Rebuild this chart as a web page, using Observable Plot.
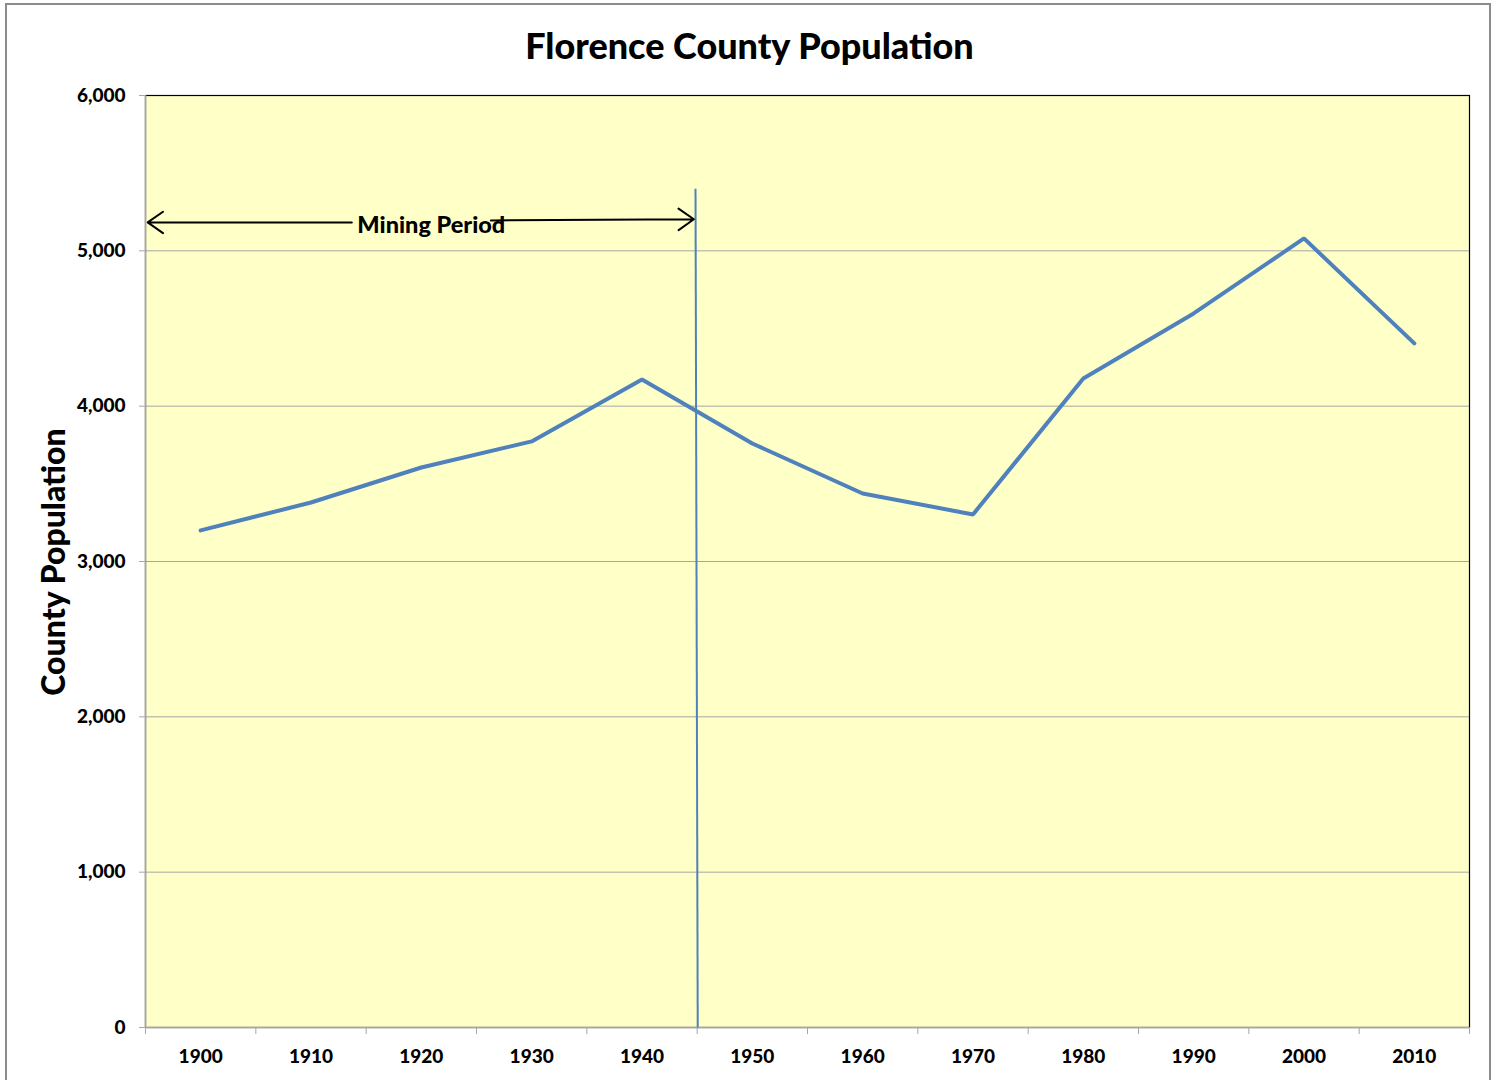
<!DOCTYPE html>
<html>
<head>
<meta charset="utf-8">
<script src="https://cdn.jsdelivr.net/npm/d3@7"></script>
<script src="https://cdn.jsdelivr.net/npm/@observablehq/plot@0.6"></script>
<style>
  html, body { margin: 0; padding: 0; background: #fff; width: 1499px; height: 1080px; overflow: hidden; }
  #border { position: absolute; left: 5px; top: 3px; width: 1486px; height: 1100px; border: 2px solid #8c8c8c; box-sizing: border-box; }
  #title { position: absolute; left: 0; top: 21px; width: 1499px; text-align: center; font-family: Lato, "Open Sans", sans-serif; font-weight: 900; font-size: 36px; line-height: 48px; color: #000; }
  #ylabel { position: absolute; left: 52px; top: 562px; transform: translate(-50%, -50%) rotate(-90deg); font-family: Lato, "Open Sans", sans-serif; font-weight: 900; font-size: 32px; white-space: nowrap; color: #000; }
  #chart { position: absolute; left: 0; top: 75px; }
</style>
</head>
<body>
<div id="border"></div>
<div id="title">Florence County Population</div>
<div id="ylabel">County Population</div>
<div id="chart"></div>
<script>
const years = [1900, 1910, 1920, 1930, 1940, 1950, 1960, 1970, 1980, 1990, 2000, 2010];
const population = [3200, 3380, 3605, 3773, 4172, 3760, 3438, 3303, 4178, 4597, 5080, 4404];
const yTicks = [0, 1000, 2000, 3000, 4000, 5000, 6000];
const xBoundaries = [1895, 1905, 1915, 1925, 1935, 1945, 1955, 1965, 1975, 1985, 1995, 2005, 2015];
const markerYears = [1944.85, 1945.05];
const markerPops = [5400, 0];
const arrowLeft = {x1: 1913.7, y1: 5183, x2: 1895.2, y2: 5183};
const arrowRight = {x1: 1926.3, y1: 5196, x2: 1944.7, y2: 5203};
const annotation = [{x: 1914.2, y: 5165, text: "Mining Period"}];

const data = years.map((y, i) => ({year: y, pop: population[i]}));
const font = "Lato, 'Open Sans', sans-serif";

const chart = Plot.plot({
  width: 1499,
  height: 1005,
  marginLeft: 145,
  marginRight: 30,
  marginTop: 20,
  marginBottom: 53,
  style: {fontFamily: font, background: "transparent"},
  x: {domain: [1895, 2015], axis: null},
  y: {domain: [0, 6000], axis: null},
  marks: [
    Plot.frame({fill: "#FFFFC8", stroke: null}),
    Plot.ruleY(yTicks.slice(1, -1), {stroke: "#a6a6a6", strokeWidth: 1}),
    Plot.frame({stroke: "#000", strokeWidth: 1.2}),
    Plot.ruleX([1895], {stroke: "#a6a6a6", strokeWidth: 1.5}),
    Plot.ruleY([0], {stroke: "#a6a6a6", strokeWidth: 1.5}),
    Plot.axisY({ticks: yTicks, tickFormat: d3.format(","), tickSize: 6, tickPadding: 14, stroke: "#a6a6a6", fill: "#000", fontSize: 19, fontWeight: 900, label: null}),
    Plot.axisX({ticks: xBoundaries, tickFormat: () => "", tickSize: 7, stroke: "#a6a6a6", label: null}),
    Plot.axisX({ticks: years, tickFormat: d => String(d), tickSize: 0, tickPadding: 22, fill: "#000", fontSize: 19, fontWeight: 900, label: null}),
    Plot.link([{}], {x1: markerYears[0], y1: markerPops[0], x2: markerYears[1], y2: markerPops[1], stroke: "#4F81BD", strokeWidth: 2}),
    Plot.arrow([arrowLeft], {x1: "x1", y1: "y1", x2: "x2", y2: "y2", stroke: "#000", strokeWidth: 2, headLength: 14, headAngle: 70}),
    Plot.arrow([arrowRight], {x1: "x1", y1: "y1", x2: "x2", y2: "y2", stroke: "#000", strokeWidth: 2, headLength: 14, headAngle: 70}),
    Plot.text(annotation, {x: "x", y: "y", text: "text", textAnchor: "start", fontSize: 23.5, fontWeight: 900, fill: "#000"}),
    Plot.line(data, {x: "year", y: "pop", stroke: "#4F81BD", strokeWidth: 4, strokeLinejoin: "miter"})
  ]
});
document.getElementById("chart").appendChild(chart);
</script>
</body>
</html>
